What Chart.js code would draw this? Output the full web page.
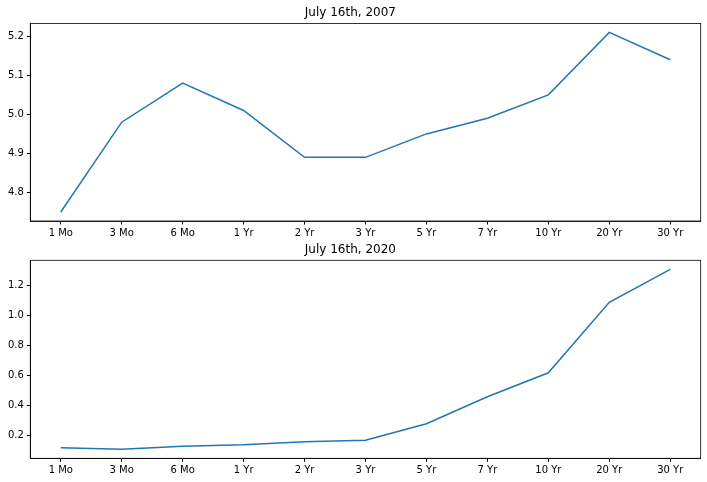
<!DOCTYPE html>
<html>
<head>
<meta charset="utf-8">
<script src="https://cdn.jsdelivr.net/npm/chart.js@4.4.1/dist/chart.umd.min.js"></script>
<style>
  body { margin: 0; background: #fff; }
  .box { position: absolute; left: 0; width: 707px; height: 241px; }
</style>
</head>
<body>
<div class="box" style="top:0"><canvas id="chart-2007"></canvas></div>
<div class="box" style="top:241px"><canvas id="chart-2020"></canvas></div>
<script>
const maturities = ['1 Mo', '3 Mo', '6 Mo', '1 Yr', '2 Yr', '3 Yr', '5 Yr', '7 Yr', '10 Yr', '20 Yr', '30 Yr']
const yields2007 = [4.75, 4.98, 5.08, 5.01, 4.89, 4.89, 4.95, 4.99, 5.05, 5.21, 5.14]
const yields2020 = [0.12, 0.11, 0.13, 0.14, 0.16, 0.17, 0.28, 0.46, 0.62, 1.09, 1.31]
const ticks2007 = [4.8, 4.9, 5.0, 5.1, 5.2]
const ticks2020 = [0.2, 0.4, 0.6, 0.8, 1.0, 1.2]

Chart.defaults.font.family = 'DejaVu Sans'
Chart.defaults.font.size = 10
Chart.defaults.color = '#000'

// full black frame like matplotlib spines
const frame = {
  id: 'frame',
  afterDraw(chart) {
    const { ctx, chartArea: a } = chart
    ctx.save()
    ctx.strokeStyle = '#000'
    ctx.lineWidth = 0.8
    ctx.strokeRect(a.left, a.top, a.right - a.left, a.bottom - a.top)
    ctx.restore()
  }
}

function makeChart(id, title, values, yTicks, yMin, yMax, titlePad, xHeight, decimals) {
  return new Chart(document.getElementById(id), {
    type: 'line',
    data: {
      labels: maturities,
      datasets: [{
        data: values,
        borderColor: '#1f77b4',
        borderWidth: 1.5,
        pointRadius: 0,
        tension: 0
      }]
    },
    options: {
      responsive: true,
      maintainAspectRatio: false,
      animation: false,
      layout: { padding: { left: 0, right: 6.3, top: 0, bottom: 0 } },
      plugins: {
        legend: { display: false },
        tooltip: { enabled: false },
        title: {
          display: true,
          text: title,
          color: '#000',
          font: { size: 12, weight: 'normal' },
          padding: titlePad
        }
      },
      scales: {
        x: {
          offset: true,
          grid: { display: true, drawOnChartArea: false, tickLength: 3.5, color: '#000', offset: false },
          border: { display: true, color: '#000', width: 0.8 },
          ticks: { padding: 3, maxRotation: 0, autoSkip: false },
          afterFit: (scale) => { scale.height = xHeight }
        },
        y: {
          min: yMin,
          max: yMax,
          grid: { display: true, drawOnChartArea: false, tickLength: 3.5, color: '#000' },
          border: { display: true, color: '#000', width: 0.8 },
          ticks: { padding: 3, callback: (v) => Number(v).toFixed(decimals) },
          afterBuildTicks: (scale) => { scale.ticks = yTicks.map((v) => ({ value: v })) },
          afterFit: (scale) => { scale.width = 30.3 }
        }
      }
    },
    plugins: [frame]
  })
}

makeChart('chart-2007', 'July 16th, 2007', yields2007, ticks2007, 4.727, 5.233, { top: 6, bottom: 3 }, 20, 1)
makeChart('chart-2020', 'July 16th, 2020', yields2020, ticks2020, 0.05, 1.37, { top: 1.5, bottom: 3.4 }, 23.7, 1)
</script>
</body>
</html>
